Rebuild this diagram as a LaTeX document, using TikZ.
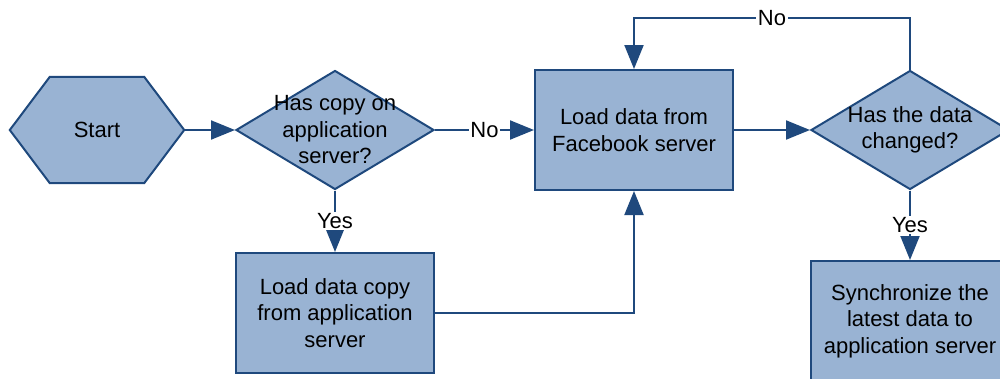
\documentclass[tikz,border=0pt]{standalone}
\usepackage{fontspec}
\setmainfont{Liberation Sans}
\usetikzlibrary{shapes.geometric,arrows.meta}
\definecolor{boxfill}{RGB}{153,179,211}
\definecolor{boxline}{RGB}{31,73,125}
\tikzset{
  txt/.style={font=\fontsize{22}{26.5}\selectfont},
  flowbox/.style={rectangle, draw=boxline, fill=boxfill, line width=2pt,
    minimum width=198pt, minimum height=120pt, inner sep=0pt, align=center, txt},
  decision/.style={diamond, draw=boxline, fill=boxfill, line width=2pt,
    minimum width=198pt, minimum height=119pt, inner sep=0pt},
  caption/.style={align=center, inner sep=0pt, txt},
  flow/.style={draw=boxline, line width=2pt, -{Triangle[length=24pt,width=19pt]}},
  edgelabel/.style={fill=white, inner sep=1.5pt, txt}
}
\begin{document}
\begin{tikzpicture}[x=1pt,y=-1pt]
  \useasboundingbox (0,0) rectangle (1000,378);
  \clip (0,0) rectangle (1000,378);

  % start terminal (hexagon drawn around an invisible frame node)
  \node[minimum width=174pt, minimum height=106pt, inner sep=0pt] (start) at (97,130) {};
  \draw[draw=boxline, fill=boxfill, line width=2pt]
    (start.west) -- ([xshift=40pt]start.north west) -- ([xshift=-40pt]start.north east)
    -- (start.east) -- ([xshift=-40pt]start.south east) -- ([xshift=40pt]start.south west) -- cycle;
  \node[caption] at (start) {Start};

  % first decision
  \node[decision] (d1) at (335,130) {};
  \node[caption] (d1text) at (d1) {Has copy on\\application\\server?};

  % processing steps
  \node[flowbox] (fb) at (634,130) {Load data from\\Facebook server};
  \node[flowbox] (copy) at (335,313) {Load data copy\\from application\\server};

  % second decision
  \node[decision] (d2) at (910,130) {};
  \node[caption] (d2text) at (d2) {Has the data\\changed?};

  \node[flowbox] (sync) at (910,321) {Synchronize the\\latest data to\\application server};

  % connectors
  \coordinate (looptop) at (0,18);
  \draw[flow] (start.east) -- (d1.west);
  \draw[flow] (d1.east) -- node[edgelabel] {No} (fb.west);
  \draw[flow] (d1.south) -- node[edgelabel] {Yes} (copy.north);
  \draw[flow] (copy.east) -| (fb.south);
  \draw[flow] (fb.east) -- (d2.west);
  \draw[flow] (d2.north) -- (d2.north |- looptop)
    -- node[edgelabel] {No} (fb.north |- looptop) -- (fb.north);
  \draw[flow] (d2.south) -- node[edgelabel] {Yes} (sync.north);
\end{tikzpicture}
\end{document}
